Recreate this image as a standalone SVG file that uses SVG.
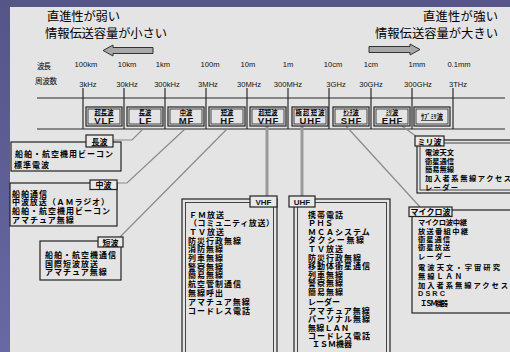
<svg xmlns="http://www.w3.org/2000/svg" width="510" height="352" viewBox="0 0 510 352">
<defs>
<linearGradient id="bg" x1="0" y1="0" x2="0" y2="1">
<stop offset="0" stop-color="#555588"/>
<stop offset="1" stop-color="#6868a4"/>
</linearGradient>
</defs>
<style>
.jp{font-family:"Noto Sans CJK JP","Noto Sans CJK SC",sans-serif;fill:#000}
.top{font-size:12.3px}
.n9{font-size:8px;font-weight:bold;letter-spacing:1px}
.n8{font-size:7.3px;font-weight:bold}
.lat{font-family:"Liberation Sans",Arial,sans-serif;fill:#111}
.frq{font-size:7.6px;text-anchor:middle}
.box{fill:none;stroke:#222;stroke-width:1.2}
.boxi{fill:none;stroke:#333;stroke-width:0.9}
.tag{fill:#e9e9e9;stroke:#222;stroke-width:1.2}
.sm{font-size:6.3px;font-weight:bold;text-anchor:middle;text-decoration:underline}
.bg2{font-size:9.5px;font-weight:bold;text-anchor:middle;letter-spacing:0.8px}
.tg{font-size:8px;font-weight:bold;text-anchor:middle}
.con{fill:none;stroke:#8a8a8a;stroke-width:1.2}
.conw{fill:none;stroke:#9a9a9a;stroke-width:3}
.rule{stroke:#2a2a2a;stroke-width:1.2}
.arr{fill:#a8a8a8;stroke:#333;stroke-width:1}
</style>
<rect x="0" y="0" width="510" height="352" fill="url(#bg)"/>
<rect x="10" y="7" width="500" height="345" fill="#e4e4e4"/>

<g id="header">
<text class="jp top" x="47" y="21" textLength="73">直進性が弱い</text>
<text class="jp top" x="45" y="38" textLength="122">情報伝送容量が小さい</text>
<text class="jp top" x="423" y="21" textLength="75">直進性が強い</text>
<text class="jp top" x="375" y="38" textLength="123">情報伝送容量が大きい</text>
<path class="arr" d="M103,50.5 L113,45 L113,47.5 L153,47.5 L153,53.5 L113,53.5 L113,56 Z"/>
<path class="arr" d="M420,49.5 L410,44 L410,46.5 L369,46.5 L369,52.5 L410,52.5 L410,55 Z"/>
<text class="jp" x="37" y="69" font-size="7.5" textLength="14">波長</text>
<text class="jp" x="35" y="84" font-size="7.5" textLength="22">周波数</text>
<g class="lat frq">
<text x="86" y="66.5">100km</text><text x="88" y="86.5">3kHz</text>
<text x="127" y="66.5">10km</text><text x="127" y="86.5">30kHz</text>
<text x="163" y="66.5">1km</text><text x="167" y="86.5">300kHz</text>
<text x="210" y="66.5">100m</text><text x="208" y="86.5">3MHz</text>
<text x="248" y="66.5">10m</text><text x="249" y="86.5">30MHz</text>
<text x="288" y="66.5">1m</text><text x="288" y="86.5">300MHz</text>
<text x="333" y="66.5">10cm</text><text x="336" y="86.5">3GHz</text>
<text x="371" y="66.5">1cm</text><text x="371" y="86.5">30GHz</text>
<text x="417" y="66.5">1mm</text><text x="418" y="86.5">300GHz</text>
<text x="459" y="66.5">0.1mm</text><text x="458" y="86.5">3THz</text>
</g>
<line class="rule" x1="37" y1="98" x2="505" y2="98"/>
<line class="rule" x1="37" y1="129" x2="505" y2="129"/>
<g class="rule">
<line x1="83" y1="88" x2="83" y2="129"/>
<line x1="124" y1="88" x2="124" y2="129"/>
<line x1="165" y1="88" x2="165" y2="129"/>
<line x1="206" y1="88" x2="206" y2="129"/>
<line x1="247" y1="88" x2="247" y2="129"/>
<line x1="288" y1="88" x2="288" y2="129"/>
<line x1="329" y1="88" x2="329" y2="129"/>
<line x1="371" y1="88" x2="371" y2="129"/>
<line x1="412" y1="88" x2="412" y2="129"/>
<line x1="453" y1="88" x2="453" y2="129"/>
</g>
</g>

<g id="connectors">
<polyline class="con" points="143,129 132,140 113,140"/>
<polyline class="con" points="185,129 127,183 117,183"/>
<polyline class="con" points="227,129 120,237"/>
<line class="conw" x1="267" y1="126" x2="267" y2="197"/>
<line class="conw" x1="302" y1="126" x2="302" y2="197"/>
<polyline class="con" points="346,126 420,207"/>
<polyline class="con" points="402,126 417,137"/>
</g>

<g id="band-vlf"><rect class="box" x="86" y="107" width="36" height="19" fill="#e4e4e4"/><rect class="boxi" x="88" y="109" width="32" height="15"/><text class="jp sm" x="104" y="114.5">超長波</text><text class="lat bg2" x="104.5" y="123.5">VLF</text></g>
<g id="band-lf"><rect class="box" x="127" y="107" width="36" height="19" fill="#e4e4e4"/><rect class="boxi" x="129" y="109" width="32" height="15"/><text class="jp sm" x="145" y="114.5">長波</text><text class="lat bg2" x="145.5" y="123.5">LF</text></g>
<g id="band-mf"><rect class="box" x="168" y="107" width="36" height="19" fill="#e4e4e4"/><rect class="boxi" x="170" y="109" width="32" height="15"/><text class="jp sm" x="186" y="114.5">中波</text><text class="lat bg2" x="186.5" y="123.5">MF</text></g>
<g id="band-hf"><rect class="box" x="209" y="107" width="36" height="19" fill="#e4e4e4"/><rect class="boxi" x="211" y="109" width="32" height="15"/><text class="jp sm" x="227" y="114.5">短波</text><text class="lat bg2" x="227.5" y="123.5">HF</text></g>
<g id="band-vhf"><rect class="box" x="250" y="107" width="36" height="19" fill="#e4e4e4"/><rect class="boxi" x="252" y="109" width="32" height="15"/><text class="jp sm" x="268" y="114.5">超短波</text><text class="lat bg2" x="268.5" y="123.5">VHF</text></g>
<g id="band-uhf"><rect class="box" x="292" y="107" width="36" height="19" fill="#e4e4e4"/><rect class="boxi" x="294" y="109" width="32" height="15"/><text class="jp sm" x="310" y="114.5" textLength="29">極超短波</text><text class="lat bg2" x="310.5" y="123.5">UHF</text></g>
<g id="band-shf"><rect class="box" x="333" y="107" width="36" height="19" fill="#e4e4e4"/><rect class="boxi" x="335" y="109" width="32" height="15"/><text class="jp sm" x="351" y="114.5">ｾﾝﾁ波</text><text class="lat bg2" x="351.5" y="123.5">SHF</text></g>
<g id="band-ehf"><rect class="box" x="374" y="107" width="36" height="19" fill="#e4e4e4"/><rect class="boxi" x="376" y="109" width="32" height="15"/><text class="jp sm" x="392" y="114.5">ﾐﾘ波</text><text class="lat bg2" x="392.5" y="123.5">EHF</text></g>
<g id="band-submm"><rect class="box" x="414" y="107" width="36" height="19" fill="#e4e4e4"/><rect class="boxi" x="416" y="109" width="32" height="15"/><text class="jp sm" x="432" y="119">ｻﾌﾞﾐﾘ波</text></g>

<g id="node-lf">
<rect class="box" x="11" y="142" width="110" height="29"/>
<rect class="tag" x="86" y="135" width="27" height="12"/>
<text class="jp tg" x="99.5" y="144.5" text-decoration="underline">長波</text>
<text class="jp n9" x="15" y="156.5">船舶・航空機用ビーコン</text>
<text class="jp n9" x="14" y="167.5">標準電波</text>
</g>

<g id="node-mf">
<rect class="box" x="10" y="183" width="107" height="43"/>
<rect class="tag" x="90" y="180" width="27" height="9.5"/>
<text class="jp tg" x="103.5" y="188.3">中波</text>
<text class="jp n9" x="12" y="196.5">船舶通信</text>
<text class="jp n9" x="12" y="205.2" textLength="98">中波放送（ＡＭラジオ）</text>
<text class="jp n9" x="12" y="213.9">船舶・航空機用ビーコン</text>
<text class="jp n9" x="12" y="222.6">アマチュア無線</text>
</g>

<g id="node-hf">
<rect class="box" x="40" y="241" width="81" height="39"/>
<rect class="tag" x="98" y="237" width="25" height="10"/>
<text class="jp tg" x="110.5" y="245.5">短波</text>
<text class="jp n9" x="45" y="258">船舶・航空機通信</text>
<text class="jp n9" x="45" y="266.5">国際短波放送</text>
<text class="jp n9" x="45" y="275.3">アマチュア無線</text>
</g>

<g id="node-vhf">
<rect class="box" x="182" y="199" width="95" height="165"/>
<rect class="boxi" x="185.5" y="202.5" width="88" height="165" stroke-width="1.2"/>
<rect class="tag" x="250" y="196" width="27" height="11"/>
<text class="lat tg" x="263.5" y="205" font-size="9.5">VHF</text>
<text class="jp n9" x="189" y="217.5">ＦＭ放送</text>
<text class="jp n9" x="189" y="226.2" textLength="86">（コミュニティ放送）</text>
<text class="jp n9" x="189" y="234.9">ＴＶ放送</text>
<text class="jp n9" x="188" y="243.6">防災行政無線</text>
<text class="jp n9" x="188" y="252.3">消防無線</text>
<text class="jp n9" x="188" y="261">列車無線</text>
<text class="jp n9" x="188" y="269.7">警察無線</text>
<text class="jp n9" x="188" y="278.4">簡易無線</text>
<text class="jp n9" x="188" y="287.1">航空管制通信</text>
<text class="jp n9" x="188" y="296.3">無線呼出</text>
<text class="jp n9" x="188" y="305">アマチュア無線</text>
<text class="jp n9" x="188" y="313.5">コードレス電話</text>
</g>

<g id="node-uhf">
<rect class="box" x="294" y="199" width="96" height="165"/>
<rect class="boxi" x="297.5" y="202.5" width="89" height="165" stroke-width="1.2"/>
<rect class="tag" x="289" y="196" width="26" height="11"/>
<text class="lat tg" x="302" y="205" font-size="9.5">UHF</text>
<text class="jp n9" x="308" y="217.5">携帯電話</text>
<text class="jp n9" x="308" y="226.1" textLength="26">ＰＨＳ</text>
<text class="jp n9" x="308" y="234.7">ＭＣＡシステム</text>
<text class="jp n9" x="308" y="243.3" textLength="57">タクシー無線</text>
<text class="jp n9" x="308" y="251.9">ＴＶ放送</text>
<text class="jp n9" x="308" y="260.5">防災行政無線</text>
<text class="jp n9" x="308" y="269.1">移動体衛星通信</text>
<text class="jp n9" x="308" y="277.7">列車無線</text>
<text class="jp n9" x="308" y="286.3">警察無線</text>
<text class="jp n9" x="308" y="294.9">簡易無線</text>
<text class="jp n9" x="308" y="305" textLength="33">レーダー</text>
<text class="jp n9" x="308" y="313.5">アマチュア無線</text>
<text class="jp n9" x="308" y="322.1">パーソナル無線</text>
<text class="jp n9" x="308" y="330.7" textLength="42">無線ＬＡＮ</text>
<text class="jp n9" x="308" y="338.9">コードレス電話</text>
<text class="jp n9" x="312" y="347" textLength="41">ＩＳＭ機器</text>
</g>

<g id="node-ehf">
<rect class="box" x="417" y="140" width="100" height="53"/>
<rect class="boxi" x="420" y="143" width="100" height="47"/>
<rect class="tag" x="415" y="136" width="29" height="10"/>
<text class="jp tg" x="429.5" y="144.5" font-size="7.5">ミリ波</text>
<text class="jp n8" x="425" y="155" textLength="29">電波天文</text>
<text class="jp n8" x="425" y="163.5" textLength="29">衛星通信</text>
<text class="jp n8" x="425" y="172" textLength="29">簡易無線</text>
<text class="jp n8" x="425" y="181" textLength="86">加入者系無線アクセス</text>
<text class="jp n8" x="425" y="189.5" textLength="33">レーダー</text>
</g>

<g id="node-shf">
<rect class="box" x="412" y="210" width="105" height="103"/>
<rect class="tag" x="409" y="207" width="43" height="9.5"/>
<text class="jp tg" x="430.5" y="215" font-size="7.5">マイクロ波</text>
<text class="jp n8" x="418" y="225" textLength="49">マイクロ波中継</text>
<text class="jp n8" x="418" y="233.8" textLength="50">放送番組中継</text>
<text class="jp n8" x="418" y="242.2" textLength="32">衛星通信</text>
<text class="jp n8" x="418" y="250.4" textLength="32">衛星放送</text>
<text class="jp n8" x="418" y="259" textLength="33">レーダー</text>
<text class="jp n8" x="418" y="269.5" textLength="82">電波天文・宇宙研究</text>
<text class="jp n8" x="418" y="278.5" textLength="44">無線ＬＡＮ</text>
<text class="jp n8" x="418" y="287.5" textLength="90">加入者系無線アクセス</text>
<text class="lat n8" x="418" y="296" font-size="9" textLength="27">DSRC</text>
<text class="jp n8" x="420" y="305.5" textLength="28">ＩＳＭ機器</text>
</g>
</svg>
